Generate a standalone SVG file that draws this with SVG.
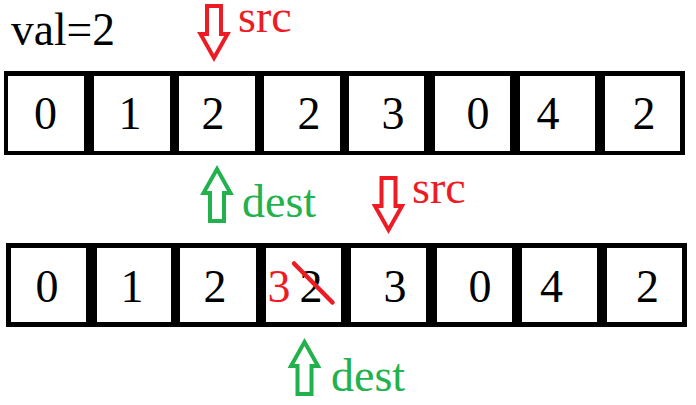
<svg xmlns="http://www.w3.org/2000/svg" xmlns:xlink="http://www.w3.org/1999/xlink" width="696" height="405" viewBox="0 0 696 405">
<style>
.frame{fill:#000}
.cell{fill:#fff}
.num{font-family:"Liberation Serif","Times New Roman",serif;font-size:46px;fill:#000;text-anchor:middle}
.lbl{font-family:"Liberation Serif","Times New Roman",serif;font-size:46px}
.red{fill:#ED1C24}
.green{fill:#22B14C}
.arrow{fill:none;stroke-width:4;stroke-linejoin:miter;stroke-miterlimit:10}
</style>
<defs>
<path id="downArrow" d="M-7,2 L7,2 L7,30 L13.5,30 L0,54 L-13.5,30 L-7,30 Z"/>
</defs>
<rect width="696" height="405" fill="#fff"/>
<text id="val" x="11" y="45" class="lbl" font-size="35" textLength="104" lengthAdjust="spacingAndGlyphs" fill="#000">val=2</text>

<g id="row1">
<rect class="frame" x="4" y="71" width="681" height="84"/>
<rect class="cell" x="8" y="76" width="76" height="75"/>
<rect class="cell" x="94" y="76" width="76" height="75"/>
<rect class="cell" x="179" y="76" width="76" height="75"/>
<rect class="cell" x="264" y="76" width="76" height="75"/>
<rect class="cell" x="349" y="76" width="75" height="75"/>
<rect class="cell" x="435" y="76" width="75" height="75"/>
<rect class="cell" x="520" y="76" width="75" height="75"/>
<rect class="cell" x="605" y="76" width="75" height="75"/>
<text class="num" x="45.5" y="129">0</text>
<text class="num" x="130" y="129">1</text>
<text class="num" x="213" y="129">2</text>
<text class="num" x="309" y="129">2</text>
<text class="num" x="393" y="129">3</text>
<text class="num" x="478" y="129">0</text>
<text class="num" x="548" y="129">4</text>
<text class="num" x="644" y="129">2</text>
</g>

<g id="row2">
<rect class="frame" x="6" y="243" width="681" height="84"/>
<rect class="cell" x="11" y="248" width="75" height="74"/>
<rect class="cell" x="97" y="248" width="74" height="74"/>
<rect class="cell" x="180" y="248" width="76" height="74"/>
<rect class="cell" x="266" y="248" width="75" height="74"/>
<rect class="cell" x="351" y="248" width="75" height="74"/>
<rect class="cell" x="437" y="248" width="75" height="74"/>
<rect class="cell" x="522" y="248" width="75" height="74"/>
<rect class="cell" x="607" y="248" width="75" height="74"/>
<text class="num" x="47" y="302">0</text>
<text class="num" x="132" y="302">1</text>
<text class="num" x="215" y="302">2</text>
<text class="num red" x="279" y="302">3</text>
<text class="num" x="311" y="302">2</text>
<text class="num" x="395" y="302">3</text>
<text class="num" x="480" y="302">0</text>
<text class="num" x="551.5" y="302">4</text>
<text class="num" x="647.5" y="302">2</text>
<line x1="294" y1="263.5" x2="332.5" y2="302.5" stroke="#ED1C24" stroke-width="4.5" stroke-linecap="round"/>
</g>

<g id="src1">
<use xlink:href="#downArrow" class="arrow" stroke="#ED1C24" transform="translate(214,4)"/>
<text class="lbl red" x="238" y="32">src</text>
</g>
<g id="dest1">
<use xlink:href="#downArrow" class="arrow" stroke="#22B14C" transform="translate(217,223) scale(1,-1)"/>
<text class="lbl green" x="242" y="217">dest</text>
</g>
<g id="src2">
<use xlink:href="#downArrow" class="arrow" stroke="#ED1C24" transform="translate(388.5,176)"/>
<text class="lbl red" x="412" y="203">src</text>
</g>
<g id="dest2">
<use xlink:href="#downArrow" class="arrow" stroke="#22B14C" transform="translate(304.5,396) scale(1,-1)"/>
<text class="lbl green" x="331" y="391">dest</text>
</g>
<g id="connectors"></g>
</svg>
